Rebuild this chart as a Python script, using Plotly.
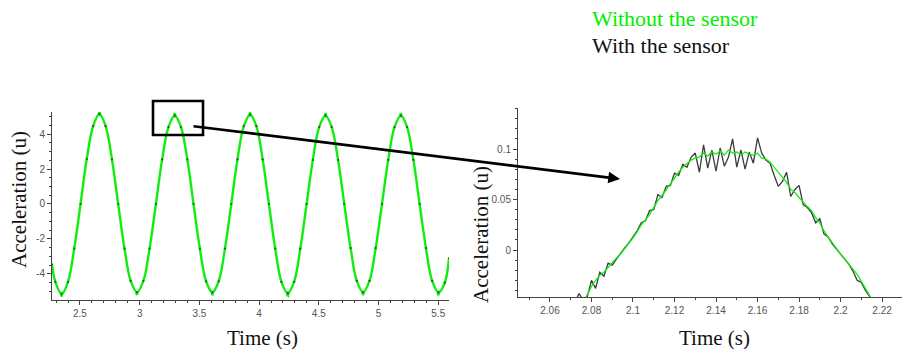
import plotly.graph_objects as go

# ---------------- data ----------------
# Left panel: full acceleration signal, Time (s) vs Acceleration (u)
left_time = [2.266, 2.294, 2.347, 2.400, 2.452, 2.505, 2.557, 2.610, 2.663, 2.715,
             2.768, 2.820, 2.873, 2.925, 2.978, 3.031, 3.083, 3.136, 3.188, 3.241,
             3.294, 3.346, 3.399, 3.451, 3.504, 3.556, 3.609, 3.662, 3.714, 3.767,
             3.819, 3.872, 3.925, 3.977, 4.030, 4.082, 4.135, 4.187, 4.240, 4.293,
             4.345, 4.398, 4.450, 4.503, 4.556, 4.608, 4.661, 4.713, 4.766, 4.818,
             4.871, 4.924, 4.976, 5.029, 5.081, 5.134, 5.187, 5.239, 5.292, 5.344,
             5.397, 5.449, 5.502, 5.555, 5.590]
left_without = [-3.45, -4.45, -5.15, -4.45, -2.55, 0.0, 2.57, 4.45, 5.15, 4.45,
                2.55, 0.0, -2.55, -4.40, -5.05, -4.40, -2.55, 0.0, 2.55, 4.40,
                5.05, 4.40, 2.55, 0.0, -2.55, -4.42, -5.05, -4.42, -2.55, 0.0,
                2.55, 4.45, 5.12, 4.45, 2.55, 0.0, -2.55, -4.45, -5.10, -4.45,
                -2.55, 0.0, 2.52, 4.40, 5.05, 4.40, 2.52, 0.0, -2.52, -4.40,
                -5.05, -4.40, -2.52, 0.0, 2.52, 4.40, 5.05, 4.40, 2.52, 0.0,
                -2.52, -4.40, -5.05, -4.50, -3.10]
left_with = [-3.45, -4.45, -5.15, -4.45, -2.55, 0.0, 2.57, 4.45, 5.15, 4.45,
             2.55, 0.0, -2.55, -4.40, -5.05, -4.40, -2.55, 0.0, 2.55, 4.40,
             5.05, 4.40, 2.55, 0.0, -2.55, -4.42, -5.05, -4.42, -2.55, 0.0,
             2.55, 4.45, 5.12, 4.45, 2.55, 0.0, -2.55, -4.45, -5.10, -4.45,
             -2.55, 0.0, 2.52, 4.40, 5.05, 4.40, 2.52, 0.0, -2.52, -4.40,
             -5.05, -4.40, -2.52, 0.0, 2.52, 4.40, 5.05, 4.40, 2.52, 0.0,
             -2.52, -4.40, -5.05, -4.50, -3.10]

# noisy band around the peaks / troughs (the fuzzy tips of the trace); None = gap
tip_time = [2.334, 2.340, 2.345, 2.350, 2.355, 2.360, None,
            2.652, 2.658, 2.663, 2.668, 2.674, None,
            2.965, 2.971, 2.977, 2.983, 2.990, None,
            3.282, 3.288, 3.294, 3.299, 3.305, None,
            3.597, 3.603, 3.609, 3.614, 3.621, None,
            3.913, 3.919, 3.925, 3.930, 3.936, None,
            4.227, 4.233, 4.240, 4.246, 4.252, None,
            4.544, 4.550, 4.556, 4.561, 4.567, None,
            4.858, 4.864, 4.871, 4.877, 4.883, None,
            5.175, 5.181, 5.187, 5.192, 5.198, None,
            5.489, 5.495, 5.502, 5.508, 5.514]
tip_value = [-5.00, -5.30, -5.02, -5.32, -5.05, -5.00, None,
             5.02, 5.28, 5.02, 5.30, 5.00, None,
             -4.95, -5.22, -4.98, -5.20, -4.95, None,
             4.95, 5.22, 4.95, 5.20, 4.94, None,
             -4.95, -5.22, -4.98, -5.24, -4.95, None,
             5.00, 5.26, 5.00, 5.24, 4.98, None,
             -5.00, -5.28, -5.00, -5.35, -4.98, None,
             4.95, 5.20, 4.95, 5.22, 4.94, None,
             -4.95, -5.22, -4.97, -5.22, -4.95, None,
             4.95, 5.20, 4.96, 5.22, 4.94, None,
             -4.95, -5.24, -4.97, -5.22, -4.95]

# Right panel: zoom on one peak
zoom_time = [2.072, 2.074, 2.076, 2.078, 2.080, 2.082, 2.084, 2.086, 2.088, 2.090,
             2.092, 2.094, 2.096, 2.098, 2.100, 2.102, 2.104, 2.106, 2.108, 2.110,
             2.112, 2.114, 2.116, 2.118, 2.120, 2.122, 2.124, 2.126, 2.128, 2.130,
             2.132, 2.134, 2.136, 2.138, 2.140, 2.142, 2.144, 2.146, 2.148, 2.150,
             2.152, 2.154, 2.156, 2.158, 2.160, 2.162, 2.164, 2.166, 2.168, 2.170,
             2.172, 2.174, 2.176, 2.178, 2.180, 2.182, 2.184, 2.186, 2.188, 2.190,
             2.192, 2.194, 2.196, 2.198, 2.200, 2.202, 2.204, 2.206, 2.208, 2.210,
             2.212, 2.214, 2.216]
zoom_without = [None, None, -0.052, -0.044, -0.036, -0.030, -0.025, -0.022, -0.017, -0.013,
                -0.008, -0.004, 0.001, 0.006, 0.012, 0.018, 0.025, 0.030, 0.035, 0.042,
                0.049, 0.054, 0.060, 0.066, 0.072, 0.077, 0.082, 0.086, 0.089, 0.091,
                0.092, 0.096, 0.093, 0.097, 0.095, 0.098, 0.094, 0.099, 0.096, 0.097,
                0.094, 0.097, 0.095, 0.094, 0.096, 0.091, 0.090, 0.087, 0.082, 0.078,
                0.073, 0.067, 0.060, 0.057, 0.052, 0.047, 0.043, 0.039, 0.032, 0.027,
                0.019, 0.013, 0.007, 0.002, -0.004, -0.009, -0.014, -0.019, -0.024, -0.031,
                -0.038, -0.045, -0.052]
zoom_with = [-0.052, -0.043, -0.050, -0.046, -0.030, -0.038, -0.022, -0.026, -0.013, -0.015,
             -0.009, -0.003, 0.002, 0.007, 0.013, 0.019, 0.027, 0.029, 0.039, 0.040,
             0.055, 0.052, 0.063, 0.064, 0.076, 0.074, 0.085, 0.082, 0.092, 0.096,
             0.077, 0.104, 0.081, 0.099, 0.078, 0.101, 0.083, 0.092, 0.110, 0.082,
             0.099, 0.080, 0.097, 0.086, 0.111, 0.096, 0.089, 0.086, 0.074, 0.063,
             0.068, 0.077, 0.053, 0.060, 0.064, 0.045, 0.042, 0.037, 0.027, 0.031,
             0.016, 0.013, 0.006, 0.001, -0.004, -0.009, -0.014, -0.021, -0.030, -0.032,
             -0.040, -0.046, -0.052]

left_ytick_vals = [-4, -2, 0, 2, 4]
left_ytick_text = ["-4", "-2", "0", "2", "4"]
left_xtick_vals = [2.5, 3, 3.5, 4, 4.5, 5, 5.5]
left_xtick_text = ["2.5", "3", "3.5", "4", "4.5", "5", "5.5"]
right_xtick_vals = [2.06, 2.08, 2.10, 2.12, 2.14, 2.16, 2.18, 2.20, 2.22]
right_xtick_text = ["2.06", "2.08", "2.1", "2.12", "2.14", "2.16", "2.18", "2.2", "2.22"]
right_ytick_vals = [0, 0.05, 0.1]
right_ytick_text = ["0", "0.05", "0.1"]

series_names = ["Without the sensor", "With the sensor"]
axis_title_x = "Time (s)"
axis_title_y = "Acceleration (u)"

# ---------------- styling ----------------
W, H = 902, 349
GREEN = "#10ee10"
SERIF = "Liberation Serif"
SANS = "Liberation Sans"
AXC = "#444444"


def px(x):
    return x / W


def py(y):
    return 1 - y / H


fig = go.Figure()

# left panel
fig.add_trace(go.Scatter(x=left_time, y=left_without, mode="lines",
                         line=dict(color=GREEN, width=2.4, shape="spline", smoothing=1.0),
                         name=series_names[0], xaxis="x", yaxis="y"))
fig.add_trace(go.Scatter(x=tip_time, y=tip_value, mode="lines", connectgaps=False,
                         line=dict(color=GREEN, width=1.2),
                         name=series_names[0], xaxis="x", yaxis="y"))
fig.add_trace(go.Scatter(x=left_time, y=left_with, mode="markers",
                         marker=dict(color="#333333", size=2.2, opacity=0.8),
                         name=series_names[1], xaxis="x", yaxis="y"))

# right panel
fig.add_trace(go.Scatter(x=zoom_time, y=zoom_with, mode="lines",
                         line=dict(color="#3a3a3a", width=1.3),
                         name=series_names[1], xaxis="x2", yaxis="y2"))
fig.add_trace(go.Scatter(x=zoom_time, y=zoom_without, mode="lines",
                         line=dict(color=GREEN, width=1.3),
                         name=series_names[0], xaxis="x2", yaxis="y2"))

tickfont = dict(family=SANS, size=10, color="#555555")
common_axis = dict(showline=True, linecolor=AXC, linewidth=1, ticks="outside",
                   ticklen=4, tickcolor=AXC, tickwidth=1, showgrid=False,
                   zeroline=False, tickfont=tickfont, mirror=False)

fig.update_layout(
    width=W, height=H,
    margin=dict(l=0, r=0, t=0, b=0),
    paper_bgcolor="white", plot_bgcolor="white",
    showlegend=False,
    xaxis=dict(common_axis, domain=[px(52), px(449)], range=[2.266, 5.59],
               anchor="y", tickmode="array", tickvals=left_xtick_vals,
               ticktext=left_xtick_text,
               minor=dict(ticks="outside", ticklen=2, tickcolor=AXC,
                          tickmode="linear", tick0=2.0, dtick=0.1)),
    yaxis=dict(common_axis, domain=[py(300), py(112)], range=[-5.49, 5.26],
               anchor="x", tickmode="array", tickvals=left_ytick_vals,
               ticktext=left_ytick_text,
               minor=dict(ticks="outside", ticklen=2, tickcolor=AXC,
                          tickmode="linear", tick0=0, dtick=0.5)),
    xaxis2=dict(common_axis, domain=[px(518), 1.0], range=[2.0446, 2.2296],
                anchor="y2", tickmode="array", tickvals=right_xtick_vals,
                ticktext=right_xtick_text,
                minor=dict(ticks="outside", ticklen=2, tickcolor=AXC,
                           tickmode="linear", tick0=2.0, dtick=0.01)),
    yaxis2=dict(common_axis, domain=[py(297), py(108)], range=[-0.0465, 0.1406],
                anchor="x2", tickmode="array", tickvals=right_ytick_vals,
                ticktext=right_ytick_text,
                minor=dict(ticks="outside", ticklen=2, tickcolor=AXC,
                           tickmode="linear", tick0=0, dtick=0.01)),
)

title_font = dict(family=SERIF, size=21, color="#111111")
annotations = [
    dict(text=series_names[0], x=px(590), y=py(18), xref="paper", yref="paper",
         xanchor="left", yanchor="middle", showarrow=False,
         font=dict(family=SERIF, size=22, color="#00ee00")),
    dict(text=series_names[1], x=px(590), y=py(46), xref="paper", yref="paper",
         xanchor="left", yanchor="middle", showarrow=False,
         font=dict(family=SERIF, size=22, color="#111111")),
    dict(text=axis_title_x, x=px(262), y=py(338), xref="paper", yref="paper",
         xanchor="center", yanchor="middle", showarrow=False, font=title_font),
    dict(text=axis_title_x, x=px(714), y=py(338), xref="paper", yref="paper",
         xanchor="center", yanchor="middle", showarrow=False, font=title_font),
    dict(text=axis_title_y, x=px(19), y=py(200), xref="paper", yref="paper",
         xanchor="center", yanchor="middle", showarrow=False, textangle=-90,
         font=title_font),
    dict(text=axis_title_y, x=px(481), y=py(234), xref="paper", yref="paper",
         xanchor="center", yanchor="middle", showarrow=False, textangle=-90,
         font=title_font),
    # arrow from the box to the zoomed plot
    dict(text="", x=px(620), y=py(179), xref="paper", yref="paper",
         ax=192 - 620, ay=126 - 179, axref="pixel", ayref="pixel",
         showarrow=True, arrowhead=2, arrowsize=0.9, arrowwidth=2.6,
         arrowcolor="#000000", standoff=0, startstandoff=0),
]
fig.update_layout(annotations=annotations)

fig.add_shape(type="rect", xref="paper", yref="paper",
              x0=px(153), x1=px(203), y0=py(135), y1=py(101),
              line=dict(color="#000000", width=2.6), fillcolor="rgba(0,0,0,0)")

fig.write_html("out.html", config={"displayModeBar": False},
               post_script="document.body.style.margin='0';document.body.style.overflow='hidden';")
